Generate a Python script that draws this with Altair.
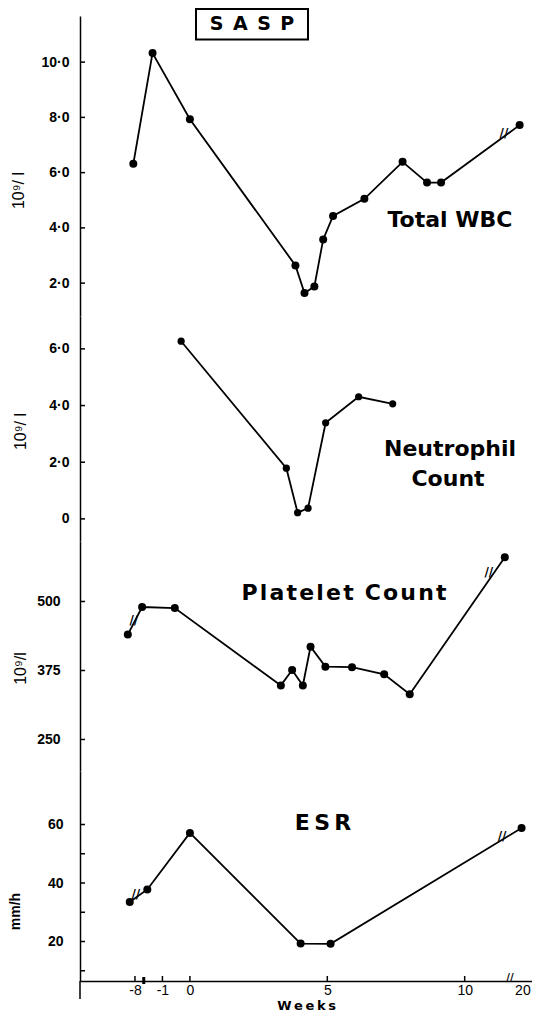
import altair as alt
import pandas as pd

# ---------------- data (t = position on the broken "Weeks" axis) ----------------
wbc_t = [-2.06, -1.36, 0.0, 3.84, 4.17, 4.53, 4.85, 5.21, 6.35, 7.74, 8.63, 9.14, 12.0]
wbc_v = [6.32, 10.33, 7.93, 2.64, 1.64, 1.88, 3.58, 4.43, 5.05, 6.39, 5.64, 5.64, 7.72]

neu_t = [-0.32, 3.51, 3.92, 4.30, 4.94, 6.14, 7.38]
neu_v = [6.27, 1.79, 0.22, 0.38, 3.39, 4.31, 4.06]

plt_t = [-2.26, -1.74, -0.55, 3.31, 3.72, 4.11, 4.39, 4.93, 5.90, 7.07, 8.00, 11.46]
plt_v = [440, 490, 488, 348, 376, 348, 418, 382, 381, 368, 332, 580]

esr_t = [-2.19, -1.55, 0.0, 4.03, 5.12, 12.07]
esr_v = [33.5, 37.8, 57.1, 19.3, 19.2, 58.8]

# axis-break marks drawn across the lines
wbc_brk_t, wbc_brk_v = [11.43], [7.42]
plt_brk_t, plt_brk_v = [-2.04, 10.88], [466, 553]
esr_brk_t, esr_brk_v = [-1.97, 11.36], [36.4, 55.9]

x_tick_pos = [-2, -1, 0, 5, 10, 12.1]
x_tick_labels = ["-8", "-1", "0", "5", "10", "20"]
x_break_pos = [-1.68]
x_break2_pos = [11.65]

wbc_ticks = [2, 4, 6, 8, 10]
neu_ticks = [0, 2, 4, 6]
plt_ticks = [250, 375, 500]
esr_ticks = [10, 20, 30, 40, 50, 60]
esr_labelled = [20, 40, 60]

# ---------------- styling ----------------
X_DOM = [-4.0, 12.45]
W = 452
LBL_FONT = "Liberation Sans Narrow, Liberation Sans, Arial, sans-serif"
HEAD_FONT = "DejaVu Sans, sans-serif"

x_label_expr = " : ".join(
    f"datum.value == {p} ? '{l}'" for p, l in zip(x_tick_pos, x_tick_labels)
) + " : ''"
dot_expr = "replace(format(datum.value, '.1f'), '.', '\u00b7')"


def one(label):
    return pd.DataFrame({"label": [label]})


def text_layer(label, px, py, size=22):
    return alt.Chart(one(label)).mark_text(
        font=HEAD_FONT, fontSize=size, fontWeight="bold", color="black",
        align="center", baseline="middle"
    ).encode(text="label:N", x=alt.value(px), y=alt.value(py))


def panel(t, v, brk_t, brk_v, ticks, label_vals, label_expr, ydom, height,
          title, title_weight, title_size, title_x, title_y, label_pad, size,
          show_x=False, extra=()):
    if show_x:
        xaxis = alt.Axis(
            values=x_tick_pos, labelExpr=x_label_expr, ticks=False, tickSize=0,
            grid=False, domainColor="black", domainWidth=1.5,
            labelFont=LBL_FONT, labelFontSize=14, labelColor="black",
            labelPadding=2, labelOverlap=False, labelFlush=False,
            title="W\u2009e\u2009e\u2009k\u2009s", titleFont=HEAD_FONT,
            titleFontSize=13, titleFontWeight="bold", titleColor="black",
            titlePadding=2,
        )
    else:
        xaxis = None
    xenc = alt.X("t:Q", scale=alt.Scale(domain=X_DOM, nice=False, zero=False), axis=xaxis)
    yaxis = alt.Axis(
        values=label_vals, labelExpr=label_expr, ticks=False, tickSize=0, grid=False,
        domainColor="black", domainWidth=1.5,
        labelFont=LBL_FONT, labelFontSize=14, labelFontWeight="bold",
        labelColor="black", labelPadding=label_pad, labelOverlap=False, labelFlush=False,
        title=title, titleFont="Liberation Sans, sans-serif", titleFontSize=title_size,
        titleFontWeight=title_weight, titleColor="black", titleAngle=270,
        titleAlign="center", titleBaseline="middle", titleX=title_x, titleY=title_y,
    )
    yenc = alt.Y("v:Q", scale=alt.Scale(domain=ydom, nice=False, zero=False), axis=yaxis)

    df = pd.DataFrame({"t": t, "v": v})
    base = alt.Chart(df).encode(x=xenc, y=yenc)
    line = base.mark_line(color="black", strokeWidth=1.8)
    pts = base.mark_circle(color="black", opacity=1, size=size)

    tick_rules = alt.Chart(pd.DataFrame({"v": ticks})).mark_rule(
        color="black", strokeWidth=1.5
    ).encode(x=alt.value(0), x2=alt.value(5), y=yenc)

    layers = [line, pts, tick_rules]
    if brk_t:
        brk = alt.Chart(pd.DataFrame({"t": brk_t, "v": brk_v})).mark_text(
            text="//", font=HEAD_FONT, fontSize=12, fontWeight="bold", color="black",
            align="center", baseline="middle"
        ).encode(x=xenc, y=yenc)
        layers.append(brk)
    if show_x:
        up_ticks = alt.Chart(pd.DataFrame({"t": x_tick_pos[:-1]})).mark_rule(
            color="black", strokeWidth=1.5
        ).encode(x=xenc, y=alt.value(height), y2=alt.value(height - 5))
        ax_brk = alt.Chart(pd.DataFrame({"t": x_break_pos})).mark_rule(
            color="black", strokeWidth=3
        ).encode(x=xenc, y=alt.value(height - 4), y2=alt.value(height + 3))
        ax_brk2 = alt.Chart(pd.DataFrame({"t": x_break2_pos})).mark_text(
            text="//", font=HEAD_FONT, fontSize=10, fontWeight="bold", color="black",
            align="center", baseline="middle"
        ).encode(x=xenc, y=alt.value(height - 3))
        ext = alt.Chart(one("")).mark_rule(color="black", strokeWidth=1.5).encode(
            x=alt.value(0), y=alt.value(height), y2=alt.value(height + 18)
        )
        layers += [up_ticks, ax_brk, ax_brk2, ext]
    layers += list(extra)
    return alt.layer(*layers).properties(width=W, height=height)


# ---- SASP box ----
sasp_box = alt.Chart(one("")).mark_rect(
    fill="white", stroke="black", strokeWidth=2
).encode(x=alt.value(116), x2=alt.value(228), y=alt.value(-7), y2=alt.value(23.5))
sasp_txt = text_layer("S\u2002A\u2002S\u2002P", 172, 8, size=19)

wbc = panel(wbc_t, wbc_v, wbc_brk_t, wbc_brk_v, wbc_ticks, wbc_ticks, dot_expr,
            [0.81, 11.67], 300, "10\u2079/ l", "normal", 16, -62, 174, 11, 64,
            extra=[sasp_box, sasp_txt, text_layer("Total WBC", 370, 204)])

neu = panel(neu_t, neu_v, [], [], neu_ticks, neu_ticks,
            "datum.value == 0 ? '0' : " + dot_expr,
            [-0.78, 7.16], 225, "10\u2079/ l", "normal", 16, -60, 115, 11, 52,
            extra=[text_layer("Neutrophil", 370, 133), text_layer("Count", 368, 163)])

plt_ = panel(plt_t, plt_v, plt_brk_t, plt_brk_v, plt_ticks, plt_ticks,
             "format(datum.value, 'd')",
             [192.9, 609.6], 230, "10\u2079/l", "normal", 16, -60, 127, 20, 64,
             extra=[text_layer("P\u200al\u200aa\u200at\u200ae\u200al\u200ae\u200at\u2002C\u200ao\u200au\u200an\u200at", 264, 52)])

esr = panel(esr_t, esr_v, esr_brk_t, esr_brk_v, esr_ticks, esr_labelled,
            "format(datum.value, 'd')",
            [6.5, 78.29], 210, "mm/h", "bold", 14, -65, 140, 17, 64, show_x=True,
            extra=[text_layer("E\u2009S\u2009R", 243, 52)])

chart = alt.vconcat(wbc, neu, plt_, esr, spacing=0, bounds="flush").properties(
    padding={"left": 0, "top": 0, "right": 0, "bottom": 0}
).configure(background="white").configure_view(stroke=None)

chart.save("out.html", embed_options={"renderer": "svg", "actions": False})
